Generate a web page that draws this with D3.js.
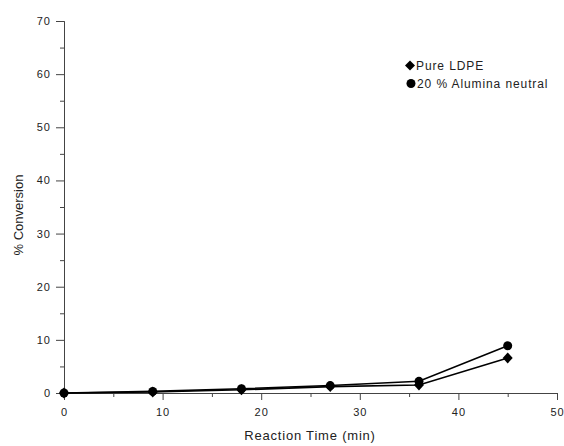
<!DOCTYPE html>
<html>
<head>
<meta charset="utf-8">
<script src="https://cdn.jsdelivr.net/npm/d3@7"></script>
<style>
  body { margin: 0; background: #fff; }
  svg text { font-family: "Liberation Sans", Arial, sans-serif; fill: #222; }
</style>
</head>
<body>
<svg id="chart" width="564" height="446"></svg>
<script>
'use strict';

// data
var times = [0, 9, 18, 27, 36, 45];
var pureLdpe = [0, 0.2, 0.6, 1.2, 1.5, 6.6];
var alumina = [0, 0.3, 0.8, 1.4, 2.2, 8.9];
var seriesNames = ['Pure LDPE', '20 % Alumina neutral'];
var xTicks = [0, 10, 20, 30, 40, 50];
var yTicks = [0, 10, 20, 30, 40, 50, 60, 70];

var svg = d3.select('#chart');

var x = d3.scaleLinear().domain([0, 50]).range([64, 557]);
var y = d3.scaleLinear().domain([0, 70]).range([393, 21]);

// minor ticks first, then major ticks
var xAxisMinor = d3.axisBottom(x).tickValues(d3.range(5, 50, 10)).tickSize(4).tickFormat('');
var yAxisMinor = d3.axisLeft(y).tickValues(d3.range(5, 70, 10)).tickSize(4).tickFormat('');

svg.append('g').attr('transform', 'translate(0,393)').call(xAxisMinor);
svg.append('g').attr('transform', 'translate(64,0)').call(yAxisMinor);

svg.append('g')
  .attr('transform', 'translate(0,393)')
  .call(d3.axisBottom(x).tickValues(xTicks).tickSize(7).tickSizeOuter(0).tickPadding(8));
svg.append('g')
  .attr('transform', 'translate(64,0)')
  .call(d3.axisLeft(y).tickValues(yTicks).tickSize(8).tickSizeOuter(0).tickPadding(5));

svg.selectAll('.domain').attr('stroke', '#444');
svg.selectAll('.tick line').attr('stroke', '#444');
svg.selectAll('.tick text')
  .style('font-size', '11px')
  .style('font-family', '"Liberation Sans", Arial, sans-serif')
  .attr('fill', '#222')
  .style('letter-spacing', '1px');

// axis titles
svg.append('text')
  .attr('x', 310).attr('y', 440)
  .attr('text-anchor', 'middle')
  .style('font-size', '13px')
  .style('letter-spacing', '0.8px')
  .text('Reaction Time (min)');

svg.append('text')
  .attr('transform', 'translate(23,215) rotate(-90)')
  .attr('text-anchor', 'middle')
  .style('font-size', '13px')
  .text('% Conversion');

// lines
var line = d3.line()
  .x(function (d, i) { return x(times[i]); })
  .y(function (d) { return y(d); });

[pureLdpe, alumina].forEach(function (vals) {
  svg.append('path')
    .datum(vals)
    .attr('d', line)
    .attr('fill', 'none')
    .attr('stroke', '#000')
    .attr('stroke-width', 1.6);
});

// markers
function diamondPath(w, h) {
  return 'M0,' + (-h / 2) + 'L' + (w / 2) + ',0L0,' + (h / 2) + 'L' + (-w / 2) + ',0Z';
}

svg.append('g').selectAll('path')
  .data(pureLdpe)
  .enter().append('path')
  .attr('d', diamondPath(10, 11))
  .attr('transform', function (d, i) { return 'translate(' + x(times[i]) + ',' + y(d) + ')'; })
  .attr('fill', '#000');

svg.append('g').selectAll('circle')
  .data(alumina)
  .enter().append('circle')
  .attr('cx', function (d, i) { return x(times[i]); })
  .attr('cy', function (d) { return y(d); })
  .attr('r', 4.5)
  .attr('fill', '#000');

// legend
var legend = svg.append('g').style('font-size', '12px').style('letter-spacing', '0.9px');
legend.append('path')
  .attr('d', diamondPath(10, 10))
  .attr('transform', 'translate(410,65.5)')
  .attr('fill', '#000');
legend.append('text').attr('x', 416).attr('y', 70).text(seriesNames[0]);
legend.append('circle')
  .attr('cx', 411).attr('cy', 83.5).attr('r', 4.5)
  .attr('fill', '#000');
legend.append('text').attr('x', 417).attr('y', 88).text(seriesNames[1]);
</script>
</body>
</html>
